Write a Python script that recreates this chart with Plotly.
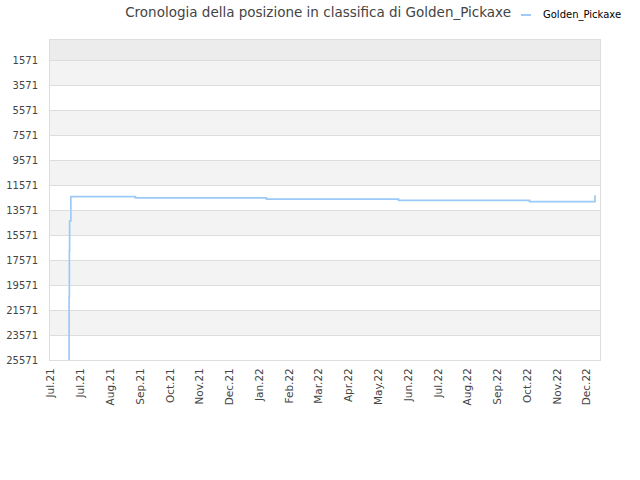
import plotly.graph_objects as go
import pandas as pd

# ---- data ----
dates = ["2021-07-19 00:00", "2021-07-19 06:00", "2021-07-19 12:00", "2021-07-19 18:00",
         "2021-07-21", "2021-09-24", "2022-02-03", "2022-06-16", "2022-10-26", "2022-12-31"]
ranks = [25571, 20500, 16800, 14451, 12500, 12600, 12700, 12800, 12900, 12400]

tick_dates = pd.date_range("2021-07-01", periods=19, freq="30D").strftime("%Y-%m-%d").tolist()
tick_labels = ["Jul.21", "Jul.21", "Aug.21", "Sep.21", "Oct.21", "Nov.21", "Dec.21", "Jan.22",
               "Feb.22", "Mar.22", "Apr.22", "May.22", "Jun.22", "Jul.22", "Aug.22", "Sep.22",
               "Oct.22", "Nov.22", "Dec.22"]
y_ticks = [1571 + 2000 * i for i in range(13)]
y_range = [25571, -29]
x_range = ["2021-06-30", "2023-01-05"]
series_name = "Golden_Pickaxe"
line_color = "#9ccaf7"

fig = go.Figure()
fig.add_trace(go.Scatter(x=dates, y=ranks, mode="lines", name=series_name, showlegend=False,
                         line=dict(color=line_color, width=1.7, shape="hv")))

# alternating bands
shapes = [dict(type="rect", xref="paper", x0=0, x1=1, yref="y", y0=y_range[1], y1=y_ticks[0],
               fillcolor="#ececec", line_width=0, layer="below")]
for i in range(len(y_ticks) - 1):
    if i % 2 == 0:
        shapes.append(dict(type="rect", xref="paper", x0=0, x1=1, yref="y",
                           y0=y_ticks[i], y1=y_ticks[i + 1], fillcolor="#f3f3f3",
                           line_width=0, layer="below"))
# legend key (short line)
shapes.append(dict(type="line", xref="paper", yref="paper", x0=0.8564, x1=0.8745,
                   y0=1.078, y1=1.078, line=dict(color=line_color, width=2)))

fig.update_layout(
    width=640, height=480,
    margin=dict(l=50, r=40, t=40, b=120, autoexpand=False),
    paper_bgcolor="white", plot_bgcolor="white",
    font=dict(family="DejaVu Sans", size=10, color="#444444"),
    title=dict(text="Cronologia della posizione in classifica di Golden_Pickaxe",
               x=0.497, xref="container", xanchor="center", y=0.975, yanchor="middle",
               font=dict(size=13.5, color="#444444")),
    showlegend=False,
    shapes=shapes,
    annotations=[dict(text=series_name, xref="paper", yref="paper", x=0.8927, y=1.078,
                      xanchor="left", yanchor="middle", showarrow=False,
                      font=dict(size=10, color="#000000"))],
)
fig.update_xaxes(type="date", range=x_range, tickmode="array", tickvals=tick_dates,
                 ticktext=tick_labels, tickangle=-90, showgrid=False, showline=True,
                 linecolor="#dddddd", mirror=True, ticks="", zeroline=False, automargin=False,
                 ticklabelstandoff=3, tickfont=dict(size=10.5))
fig.update_yaxes(range=y_range, tickmode="array", tickvals=y_ticks,
                 ticktext=[str(v) for v in y_ticks], showgrid=True, gridcolor="#dddddd",
                 showline=True, linecolor="#dddddd", mirror=True, ticks="", zeroline=False,
                 automargin=False, ticklabelstandoff=9)

fig.write_html("out.html", config={"displayModeBar": False},
               post_script="document.body.style.margin='0';")
